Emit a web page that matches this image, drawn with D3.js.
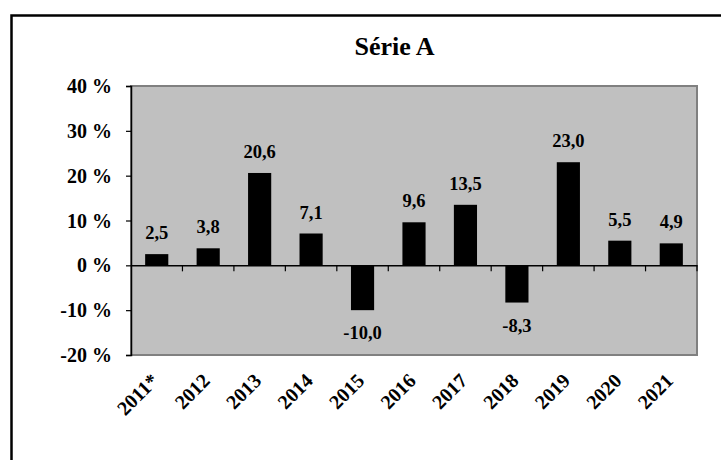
<!DOCTYPE html>
<html>
<head>
<meta charset="utf-8">
<script src="https://cdn.jsdelivr.net/npm/d3@7"></script>
<style>
  html, body { margin: 0; padding: 0; background: #fff; overflow: hidden; }
  text { font-family: "Liberation Serif", "Times New Roman", serif; font-weight: bold; fill: #000; }
</style>
</head>
<body>
<svg id="chart" width="721" height="460"></svg>
<script>
const title = "Série A";
const categories = ["2011*", "2012", "2013", "2014", "2015", "2016", "2017", "2018", "2019", "2020", "2021"];
const values = [2.5, 3.8, 20.6, 7.1, -10.0, 9.6, 13.5, -8.3, 23.0, 5.5, 4.9];
const yTicks = [-20, -10, 0, 10, 20, 30, 40];

const svg = d3.select("#chart");

// outer frame (extends beyond the view on right and bottom)
svg.append("rect")
  .attr("x", 11.5).attr("y", 15.5)
  .attr("width", 800).attr("height", 600)
  .attr("fill", "#fff").attr("stroke", "#000").attr("stroke-width", 2.5);

const plot = { left: 131, top: 86, right: 697, bottom: 355 };

const x = d3.scaleBand().domain(categories).range([plot.left, plot.right]).paddingInner(0.55).paddingOuter(0.275);
const xOuter = d3.scaleBand().domain(categories).range([plot.left, plot.right]);
const y = d3.scaleLinear().domain([-20, 40]).range([plot.bottom, plot.top]);

// plot area
svg.append("rect")
  .attr("x", plot.left).attr("y", plot.top)
  .attr("width", plot.right - plot.left).attr("height", plot.bottom - plot.top)
  .attr("fill", "#c0c0c0").attr("stroke", "#808080").attr("stroke-width", 2);

// title
svg.append("text")
  .attr("x", 394.5).attr("y", 55)
  .attr("text-anchor", "middle")
  .style("font-size", "26px")
  .text(title);

// bars
svg.selectAll("rect.bar").data(values).enter().append("rect")
  .attr("class", "bar")
  .attr("x", (d, i) => x(categories[i]))
  .attr("width", x.bandwidth())
  .attr("y", d => y(Math.max(0, d)))
  .attr("height", d => Math.abs(y(d) - y(0)))
  .attr("fill", "#000");

// y axis
const yAxis = d3.axisLeft(y).tickValues(yTicks).tickSize(5).tickFormat(d => d + " %");
const ya = svg.append("g").attr("transform", `translate(${plot.left},0)`).call(yAxis);
ya.select(".domain").attr("stroke", "#000").attr("stroke-width", 1.5);
ya.selectAll(".tick line").attr("stroke", "#000").attr("stroke-width", 1.2);
ya.selectAll(".tick text")
  .attr("x", -19).attr("dy", "0.33em")
  .style("font-size", "20px").style("font-family", "Liberation Serif, serif").style("font-weight", "bold");

// zero axis with category boundary ticks
const xAxis = d3.axisBottom(xOuter).tickSize(0).tickFormat("");
const xa = svg.append("g").attr("transform", `translate(0,${y(0)})`).call(xAxis);
xa.select(".domain").attr("stroke", "#000").attr("stroke-width", 1.5);
const boundaries = categories.map(c => xOuter(c)).slice(1).concat([plot.right]);
xa.selectAll("line.bnd").data(boundaries).enter().append("line")
  .attr("class", "bnd")
  .attr("x1", d => d).attr("x2", d => d)
  .attr("y1", 0).attr("y2", 6)
  .attr("stroke", "#000").attr("stroke-width", 1.2);

// category labels (rotated)
svg.selectAll("text.cat").data(categories).enter().append("text")
  .attr("class", "cat")
  .attr("text-anchor", "end")
  .style("font-size", "20px")
  .attr("transform", c => `translate(${xOuter(c) + xOuter.bandwidth() / 2 + 3},382) rotate(-45)`)
  .text(c => c);

// value labels
const fmt = v => v.toFixed(1).replace(".", ",");
svg.selectAll("text.val").data(values).enter().append("text")
  .attr("class", "val")
  .attr("text-anchor", "middle")
  .style("font-size", "18.5px")
  .attr("x", (d, i) => x(categories[i]) + x.bandwidth() / 2)
  .attr("y", d => d >= 0 ? y(d) - 15 : y(d) + 29)
  .text(fmt);
</script>
</body>
</html>
